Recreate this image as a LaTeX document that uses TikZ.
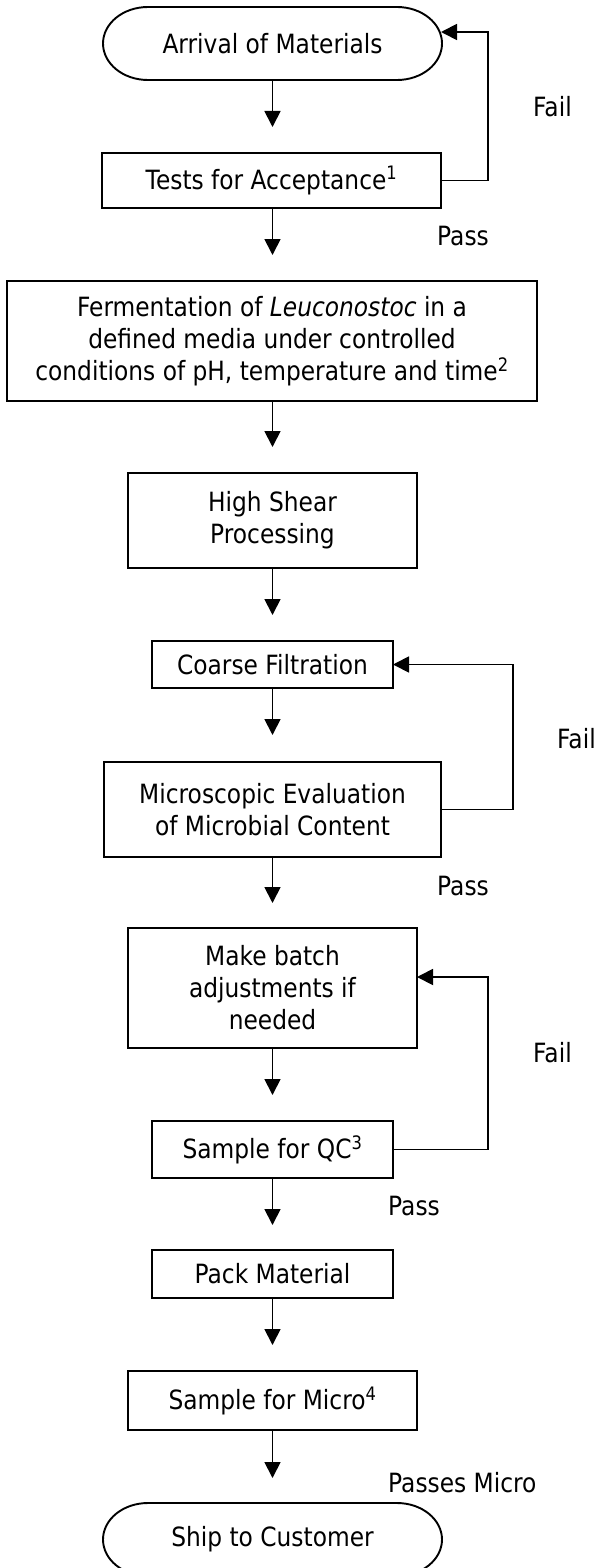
\documentclass[tikz,border=0pt]{standalone}
\usepackage{fontspec}
\setmainfont{DejaVu Sans}[FakeStretch=0.88]
\usetikzlibrary{arrows.meta}
\newcommand\termoutline[1]{%
  \draw[line width=1.9pt] ([xshift=45pt]#1.north west) -- ([xshift=-45pt]#1.north east)
    arc[start angle=90,end angle=-90,x radius=45pt,y radius=36.5pt]
    -- ([xshift=45pt]#1.south west)
    arc[start angle=270,end angle=90,x radius=45pt,y radius=36.5pt] -- cycle;}
\begin{document}
\begin{tikzpicture}[x=1pt,y=-1pt,
  box/.style={draw, line width=1.9pt, inner sep=0pt, outer sep=0pt, align=center, font=\fontsize{26.5}{32}\selectfont},
  lbl/.style={inner sep=0pt, anchor=base west, font=\fontsize{26.5}{32}\selectfont},
  conn/.style={line width=1.8pt, -{Triangle[length=16pt,width=16pt]}}]
\useasboundingbox (0,0) rectangle (596,1568);
\clip (0,0) rectangle (596,1568);
% nodes
\node[box, draw=none, minimum width=339, minimum height=73] (arr) at (272.5,43.5) {Arrival of Materials};
\termoutline{arr}
\node[box, minimum width=339, minimum height=55] (tests) at (271.5,180.5) {Tests for Acceptance\textsuperscript{1}};
\node[box, minimum width=530, minimum height=120] (ferm) at (272,341) {Fermentation of \textit{Leuconostoc} in a\\ defined media under controlled\\ conditions of pH, temperature and time\textsuperscript{2}};
\node[box, minimum width=289, minimum height=95] (hs) at (272.5,520.5) {High Shear\\ Processing};
\node[box, minimum width=241, minimum height=47] (cf) at (272.5,664.5) {Coarse Filtration};
\node[box, minimum width=337, minimum height=95] (mic) at (272.5,809.5) {Microscopic Evaluation\\ of Microbial Content};
\node[box, minimum width=289, minimum height=120] (mb) at (272.5,988) {Make batch\\ adjustments if\\ needed};
\node[box, minimum width=241, minimum height=57] (qc) at (272.5,1149.5) {Sample for QC\textsuperscript{3}};
\node[box, minimum width=241, minimum height=48] (pack) at (272.5,1274) {Pack Material};
\node[box, minimum width=289, minimum height=59] (sm) at (272.5,1400.5) {Sample for Micro\textsuperscript{4}};
\node[box, draw=none, minimum width=339, minimum height=73] (ship) at (272.5,1539.5) {Ship to Customer};
\termoutline{ship}
% labels
\node[lbl] (f1) at (533,117) {Fail};
\node[lbl] (p1) at (437,245) {Pass};
\node[lbl] (f2) at (557,748) {Fail};
\node[lbl] (p2) at (437,895) {Pass};
\node[lbl] (f3) at (533,1062) {Fail};
\node[lbl] (p3) at (388,1215) {Pass};
\node[lbl] (pm) at (388,1492) {Passes Micro};
% arrow ends
\coordinate (e1) at (272.5,127);
\coordinate (e2) at (272.5,255);
\coordinate (e3) at (272.5,447);
\coordinate (e4) at (272.5,615);
\coordinate (e5) at (272.5,735);
\coordinate (e6) at (272.5,903);
\coordinate (e7) at (272.5,1095);
\coordinate (e8) at (272.5,1225);
\coordinate (e9) at (272.5,1345);
\coordinate (e10) at (272.5,1478);
\draw[conn] (arr.south) -- (e1);
\draw[conn] (tests.south -| e2) -- (e2);
\draw[conn] (ferm.south -| e3) -- (e3);
\draw[conn] (hs.south) -- (e4);
\draw[conn] (cf.south) -- (e5);
\draw[conn] (mic.south) -- (e6);
\draw[conn] (mb.south) -- (e7);
\draw[conn] (qc.south) -- (e8);
\draw[conn] (pack.south) -- (e9);
\draw[conn] (sm.south) -- (e10);
% feedback loops
\coordinate (l1) at (488,32);
\coordinate (arrIn) at (441,32);
\draw[conn] (tests.east) -| (l1) -- (arrIn);
\coordinate (l2) at (513,664.5);
\draw[conn] (mic.east) -| (l2) -- (cf.east);
\coordinate (l3) at (488,977);
\coordinate (mbIn) at (417,977);
\draw[conn] (qc.east) -| (l3) -- (mbIn);
\end{tikzpicture}
\end{document}
